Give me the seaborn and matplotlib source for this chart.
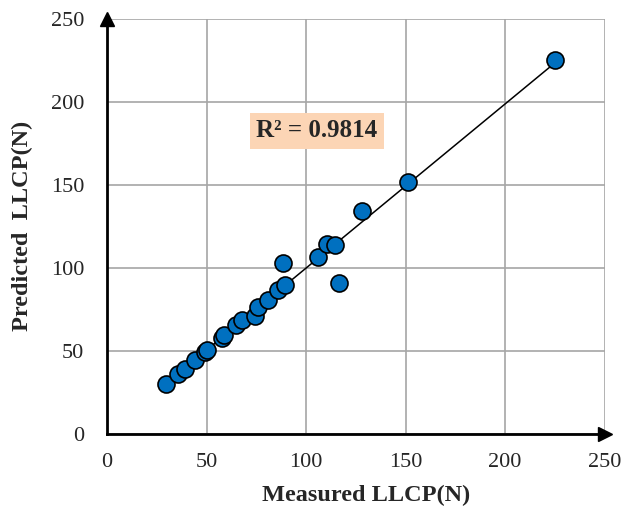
import matplotlib
matplotlib.use('Agg')
import matplotlib.pyplot as plt
import numpy as np
import pandas as pd
import seaborn as sns

# values
measured = [29.5, 35.5, 39, 44, 49, 50, 57.5, 59, 65, 68, 74.5, 76, 81,
            86, 89.5, 88.5, 106, 110.5, 114.5, 116.5, 128, 151, 225]
predicted = [30, 36, 39, 44.5, 49.5, 50.5, 58, 59.5, 65.5, 68.5, 71, 76.5, 80.5,
             86.5, 89.5, 103, 106.5, 114.5, 114, 91, 134, 151.5, 225]
ticks = [0, 50, 100, 150, 200, 250]
r2_text = 'R² = 0.9814'

df = pd.DataFrame({'Measured': measured, 'Predicted': predicted})

sns.set_style('white')
plt.rcParams['font.family'] = ['Liberation Serif', 'DejaVu Serif']

fig = plt.figure(figsize=(6.26, 5.08), dpi=100)
ax = fig.add_axes([0.171, 0.146, 0.795, 0.817])

ax.grid(True, color='#a6a6a6', linewidth=1.2, zorder=0)
ax.set_axisbelow(True)

sns.regplot(data=df, x='Measured', y='Predicted', ax=ax, ci=None,
            scatter=False, truncate=True,
            line_kws={'color': 'black', 'linewidth': 1.1, 'zorder': 2})
sns.scatterplot(data=df, x='Measured', y='Predicted', ax=ax, s=150,
                color='#0070c0', edgecolor='black', linewidth=1.2, zorder=3)

ax.set_xlim(0, 250)
ax.set_ylim(0, 250)
ax.set_xticks(ticks)
ax.set_yticks(ticks)
ax.tick_params(axis='both', labelsize=16, direction='out', length=4.5,
               width=1.8, color='black')
ax.tick_params(axis='x', pad=9)
ax.tick_params(axis='y', pad=12)

for s in ['top', 'right']:
    ax.spines[s].set_visible(False)
for s in ['left', 'bottom']:
    ax.spines[s].set_color('black')
    ax.spines[s].set_linewidth(2)
    ax.spines[s].set_zorder(4)

# arrow heads at the axis ends
ax.plot(1, 0, '>', color='black', markersize=10, transform=ax.transAxes,
        clip_on=False, zorder=5)
ax.plot(0, 1, '^', color='black', markersize=10, transform=ax.transAxes,
        clip_on=False, zorder=5)

ax.set_xlabel('Measured LLCP(N)', fontsize=17.5, fontweight='bold')
ax.set_ylabel('Predicted  LLCP(N)', fontsize=17.5, fontweight='bold')
ax.xaxis.set_label_coords(0.52, -0.122)
ax.yaxis.set_label_coords(-0.148, 0.5)

ax.text(105.5, 182.5, r2_text, fontsize=18, fontweight='bold', ha='center',
        va='center', zorder=6,
        bbox=dict(boxstyle='square,pad=0.25', facecolor='#fcd5b5',
                  edgecolor='none'))

fig.savefig('out.png', dpi=100)
